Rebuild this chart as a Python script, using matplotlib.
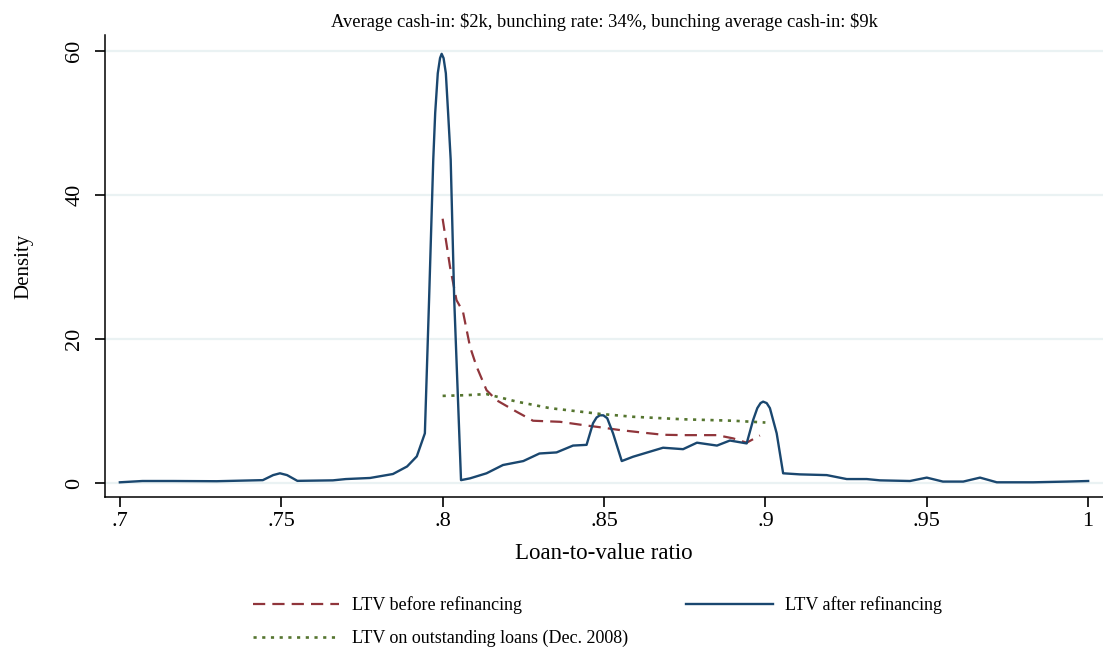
import numpy as np
import matplotlib
matplotlib.use("Agg")
import matplotlib.pyplot as plt

plt.rcParams['font.family'] = ['Liberation Serif', 'DejaVu Serif']

# LTV after refinancing (solid blue)
after_x = [0.7, 0.707, 0.7165, 0.73, 0.7443, 0.7475, 0.7496, 0.7518, 0.755, 0.766, 0.770, 0.7775,
           0.7846, 0.789, 0.792, 0.7945, 0.7958, 0.7971, 0.7977, 0.7985, 0.7992, 0.7997,
           0.8003, 0.8010, 0.8017, 0.8025, 0.8036, 0.8057,
           0.8085, 0.8136, 0.8187, 0.825, 0.830, 0.8353, 0.8404, 0.8446, 0.8466,
           0.8477, 0.8487, 0.8498, 0.851, 0.8528, 0.8555, 0.859, 0.8642, 0.8683, 0.8745, 0.8788, 0.885,
           0.889, 0.8942, 0.8962, 0.8975, 0.8985, 0.8993, 0.9004, 0.9014, 0.9035, 0.9055, 0.9107, 0.919, 0.9252,
           0.9314, 0.9355, 0.9448, 0.95, 0.955, 0.9613, 0.9665, 0.9717, 0.983, 0.9934, 1.0]
after_y = [0.1, 0.28, 0.28, 0.25, 0.4, 1.1, 1.35, 1.1, 0.3, 0.37, 0.55, 0.7,
           1.25, 2.3, 3.7, 6.9, 25.4, 44.9, 51.4, 56.9, 59.0, 59.6,
           59.0, 56.9, 51.4, 44.9, 25.4, 0.4,
           0.65, 1.35, 2.5, 3.05, 4.1, 4.25, 5.2, 5.3, 8.3,
           9.1, 9.4, 9.4, 9.0, 6.9, 3.05, 3.65, 4.35, 4.9, 4.7, 5.6, 5.2,
           5.9, 5.5, 8.75, 10.4, 11.1, 11.3, 11.1, 10.4, 6.9, 1.35, 1.2, 1.1, 0.55,
           0.55, 0.37, 0.28, 0.75, 0.2, 0.2, 0.75, 0.1, 0.1, 0.2, 0.28]

# LTV before refinancing (dashed red)
before_x = [0.8, 0.8023, 0.8043, 0.8063, 0.8085, 0.8105, 0.8136, 0.8167, 0.8229, 0.828,
            0.8364, 0.8435, 0.8487, 0.855, 0.862, 0.8683, 0.8745, 0.885, 0.890, 0.8942, 0.8983]
before_y = [36.7, 30.0, 25.4, 23.8, 18.9, 16.2, 12.9, 11.5, 9.9, 8.65,
            8.5, 8.05, 7.75, 7.35, 7.0, 6.7, 6.65, 6.65, 6.2, 5.6, 6.6]

# LTV on outstanding loans, Dec. 2008 (dotted green)
outst_x = [0.8, 0.8074, 0.8136, 0.823, 0.8332, 0.8487, 0.859, 0.8745, 0.890, 0.900]
outst_y = [12.1, 12.2, 12.35, 11.3, 10.4, 9.6, 9.2, 8.85, 8.65, 8.4]

xticks = [0.7, 0.75, 0.8, 0.85, 0.9, 0.95, 1.0]
xticklabels = ['.7', '.75', '.8', '.85', '.9', '.95', '1']
yticks = [0, 20, 40, 60]

fig = plt.figure(figsize=(11.03, 6.5), dpi=100)
ax = fig.add_axes([0.0952, 0.2354, 0.9048, 0.7106])

for y in yticks:
    ax.axhline(y, color='#eaf2f3', lw=1.6, zorder=0)

l_before, = ax.plot(before_x, before_y, color='#90353b', lw=1.6, dashes=(5.5, 3.2))
l_after, = ax.plot(after_x, after_y, color='#1a476f', lw=1.7)
l_out, = ax.plot(outst_x, outst_y, color='#55752f', lw=1.9, dashes=(1.2, 2.1))

ax.set_xlim(0.6954, 1.0046)
ax.set_ylim(-1.94, 62.2)
ax.set_xticks(xticks)
ax.set_xticklabels(xticklabels, fontsize=16)
ax.set_yticks(yticks)
ax.set_yticklabels([str(v) for v in yticks], fontsize=16, rotation=90, va='center')
ax.tick_params(axis='x', direction='out', length=7, width=1.2, color='black')
ax.tick_params(axis='y', direction='out', length=7, width=1.2, color='black', pad=8)
for s in ['top', 'right']:
    ax.spines[s].set_visible(False)
for s in ['left', 'bottom']:
    ax.spines[s].set_linewidth(1.1)

ax.set_xlabel('Loan-to-value ratio', fontsize=16.5, labelpad=9)
ax.set_ylabel('Density', fontsize=15, labelpad=23)
ax.set_title(r'Average cash-in: \$2k, bunching rate: 34%, bunching average cash-in: \$9k',
             fontsize=13.3, pad=6)

fig.legend([l_before, l_out, l_after],
           ['LTV before refinancing', 'LTV on outstanding loans (Dec. 2008)', 'LTV after refinancing'],
           ncol=2, loc='lower left', bbox_to_anchor=(0.229, 0.004), bbox_transform=fig.transFigure,
           frameon=False, fontsize=13, handlelength=4.8, handletextpad=0.7,
           columnspacing=3.22, labelspacing=0.88, borderpad=0, borderaxespad=0)

fig.savefig('out.png', dpi=100)
